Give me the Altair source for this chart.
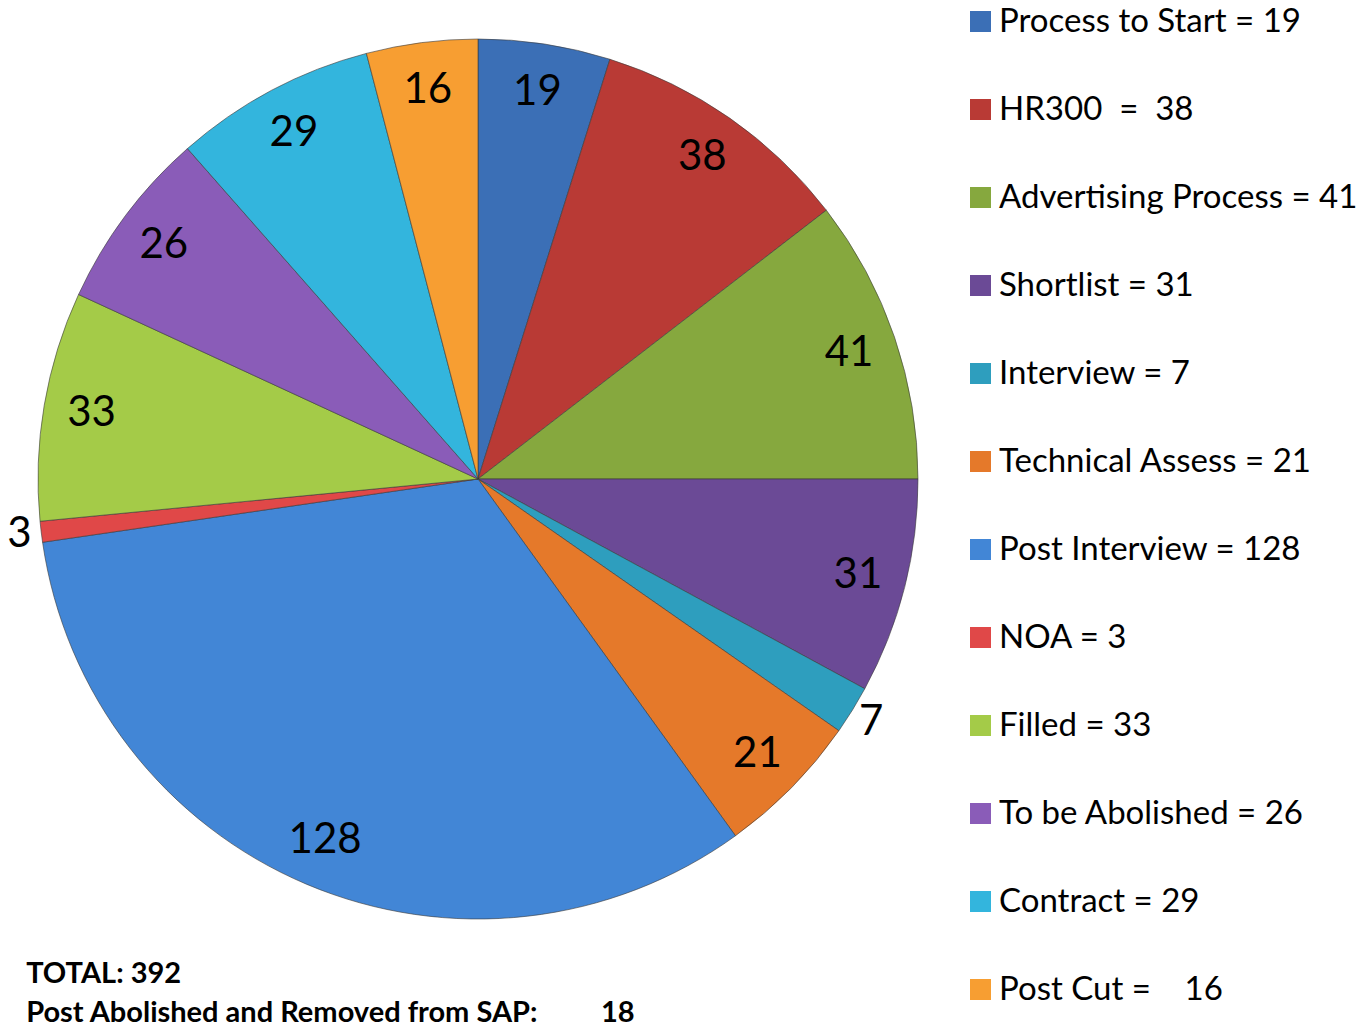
import altair as alt
import pandas as pd

categories = ["Process to Start", "HR300", "Advertising Process", "Shortlist",
              "Interview", "Technical Assess", "Post Interview", "NOA",
              "Filled", "To be Abolished", "Contract", "Post Cut"]
values = [19, 38, 41, 31, 7, 21, 128, 3, 33, 26, 29, 16]
legend_labels = ["Process to Start = 19", "HR300\u00a0\u00a0=\u00a0\u00a038",
                 "Advertising Process = 41", "Shortlist = 31", "Interview = 7",
                 "Technical Assess = 21", "Post Interview = 128", "NOA = 3",
                 "Filled = 33", "To be Abolished = 26", "Contract = 29",
                 "Post Cut =\u00a0\u00a0\u00a0 16"]
colors = ["#3B6FB6", "#B93A35", "#86A83E", "#6B4A96", "#2E9EBE", "#E5792A",
          "#4286D6", "#E04848", "#A4CB48", "#8A5CB8", "#33B5DD", "#F79E32"]
total_lines = ["TOTAL: 392",
               "Post Abolished and Removed from SAP:" + "\u00a0" * 9 + "18"]

df = pd.DataFrame({
    "category": legend_labels,
    "value": values,
    "order": list(range(len(values))),
})

FONT = "Lato"

base = alt.Chart(df).encode(
    theta=alt.Theta("value:Q", stack=True),
    order=alt.Order("order:Q", sort="ascending"),
)

pie = base.mark_arc(radius=440, stroke="#3a3a3a", strokeWidth=1, strokeOpacity=0.6).encode(
    color=alt.Color(
        "category:N",
        sort=legend_labels,
        scale=alt.Scale(domain=legend_labels, range=colors),
        legend=alt.Legend(
            title=None,
            orient="none",
            legendX=956,
            legendY=-3,
            padding=0,
            symbolType="square",
            symbolSize=441,
            symbolStrokeWidth=0,
            labelFontSize=33,
            labelFont=FONT,
            labelColor="#000000",
            labelOffset=2,
            rowPadding=54,
            labelLimit=500,
        ),
    )
)

inner = base.mark_text(radius=392, fontSize=42, font=FONT, color="#000000").encode(
    text="value:Q",
    opacity=alt.condition("datum.value >= 10", alt.value(1), alt.value(0)),
)

outer = base.mark_text(radius=462, fontSize=42, font=FONT, color="#000000").encode(
    text="value:Q",
    opacity=alt.condition("datum.value < 10", alt.value(1), alt.value(0)),
)

chart = alt.layer(pie, inner, outer).properties(
    width=940,
    height=942,
    autosize=alt.AutoSizeParams(type="none"),
    padding={"left": 0, "top": 0, "right": 413, "bottom": 80},
    title=alt.TitleParams(
        text=total_lines,
        orient="bottom",
        anchor="start",
        dx=28,
        offset=-47,
        font=FONT,
        fontSize=29,
        fontWeight="bold",
        color="#000000",
        lineHeight=39,
        baseline="top",
    ),
).configure_view(stroke=None)

chart.save("out.html", embed_options={"renderer": "svg", "actions": False})
